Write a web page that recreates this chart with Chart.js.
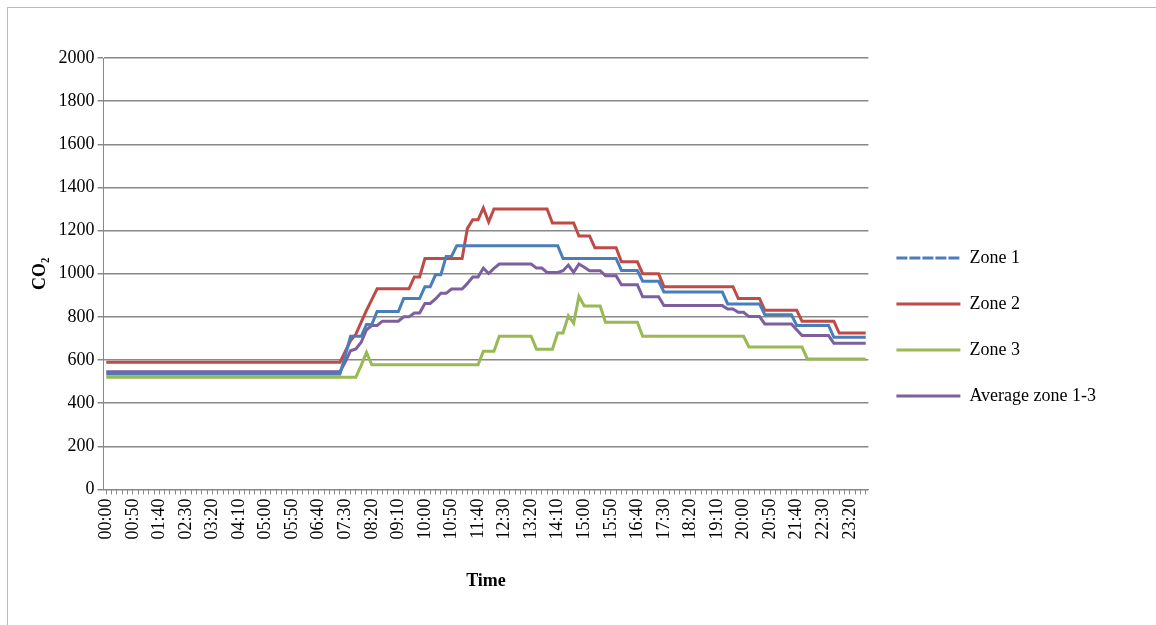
<!DOCTYPE html>
<html>
<head>
<meta charset="utf-8">
<script src="https://cdn.jsdelivr.net/npm/chart.js@4"></script>
<style>
  body { margin:0; background:#fff; }
  #wrap { position:absolute; left:0; top:0; width:1156px; height:625px; }
  #frame { position:absolute; left:7px; top:7px; width:1160px; height:630px; border:1px solid #bbb; }
</style>
</head>
<body>
<div id="wrap"><div id="frame"></div><canvas id="c" width="1156" height="625"></canvas></div>
<script>
// time labels every 10 minutes
const times = [];
for (let h = 0; h < 24; h++) for (let m = 0; m < 60; m += 10)
  times.push(String(h).padStart(2,'0') + ':' + String(m).padStart(2,'0'));

const zone1 = [
  535,535,535,535,535,535,535,535,535,535,535,535,535,535,535,535,535,535,535,535,
  535,535,535,535,535,535,535,535,535,535,535,535,535,535,535,535,535,535,535,535,
  535,535,535,535,535,620,710,710,710,765,765,825,825,825,825,825,885,885,885,885,
  940,940,995,995,1080,1080,1130,1130,1130,1130,1130,1130,1130,1130,1130,1130,1130,1130,1130,1130,
  1130,1130,1130,1130,1130,1130,1070,1070,1070,1070,1070,1070,1070,1070,1070,1070,1070,1015,1015,1015,
  1015,965,965,965,965,915,915,915,915,915,915,915,915,915,915,915,915,860,860,860,
  860,860,860,860,810,810,810,810,810,810,760,760,760,760,760,760,760,705,705,705,
  705,705,705,705
];
const zone2 = [
  590,590,590,590,590,590,590,590,590,590,590,590,590,590,590,590,590,590,590,590,
  590,590,590,590,590,590,590,590,590,590,590,590,590,590,590,590,590,590,590,590,
  590,590,590,590,590,640,690,720,775,830,880,930,930,930,930,930,930,930,985,985,
  1070,1070,1070,1070,1070,1070,1070,1070,1210,1250,1250,1305,1240,1300,1300,1300,1300,1300,1300,1300,
  1300,1300,1300,1300,1235,1235,1235,1235,1235,1175,1175,1175,1120,1120,1120,1120,1120,1055,1055,1055,
  1055,1000,1000,1000,1000,940,940,940,940,940,940,940,940,940,940,940,940,940,940,885,
  885,885,885,885,830,830,830,830,830,830,830,780,780,780,780,780,780,780,725,725,
  725,725,725,725
];
const zone3 = [
  520,520,520,520,520,520,520,520,520,520,520,520,520,520,520,520,520,520,520,520,
  520,520,520,520,520,520,520,520,520,520,520,520,520,520,520,520,520,520,520,520,
  520,520,520,520,520,520,520,520,575,635,578,578,578,578,578,578,578,578,578,578,
  578,578,578,578,578,578,578,578,578,578,578,640,640,640,710,710,710,710,710,710,
  710,650,650,650,650,725,725,805,770,895,850,850,850,850,775,775,775,775,775,775,
  775,710,710,710,710,710,710,710,710,710,710,710,710,710,710,710,710,710,710,710,
  710,660,660,660,660,660,660,660,660,660,660,660,605,605,605,605,605,605,605,605,
  605,605,605,605
];
const average = [
  545,545,545,545,545,545,545,545,545,545,545,545,545,545,545,545,545,545,545,545,
  545,545,545,545,545,545,545,545,545,545,545,545,545,545,545,545,545,545,545,545,
  545,545,545,545,545,590,643,651,682,740,760,760,780,780,780,780,800,800,818,818,
  862,862,883,909,909,929,929,929,955,985,985,1026,1001,1025,1045,1045,1045,1045,1045,1045,
  1045,1026,1026,1006,1006,1006,1014,1040,1006,1045,1030,1014,1014,1014,990,990,990,949,949,949,
  949,893,893,893,893,852,852,852,852,852,852,852,852,852,852,852,852,836,836,821,
  821,801,801,801,767,767,767,767,767,767,740,713,713,713,713,713,713,677,677,677,
  677,677,677,677
];

const serif = '"Liberation Serif", "DejaVu Serif", serif';
Chart.defaults.font.family = serif;
Chart.defaults.color = '#000';

function ds(label, data, color, dash) {
  return { label, data, borderColor: color, backgroundColor: 'rgba(0,0,0,0)',
    borderWidth: 3, pointRadius: 0, tension: 0, legendDash: dash };
}

new Chart(document.getElementById('c'), {
  type: 'line',
  data: {
    labels: times,
    datasets: [
      ds('Zone 1', zone1, '#4a7ebb', [9, 4]),
      ds('Zone 2', zone2, '#be4b48', [10, 3, 2, 3]),
      ds('Zone 3', zone3, '#98b954', [16, 4]),
      ds('Average zone 1-3', average, '#7d5fa0', [])
    ]
  },
  options: {
    responsive: false,
    animation: false,
    layout: { padding: { top: 58, left: 26, right: 50, bottom: 29 } },
    plugins: {
      tooltip: { enabled: false },
      legend: {
        position: 'right',
        align: 'center',
        labels: {
          font: { size: 18 },
          boxWidth: 64,
          boxHeight: 0,
          padding: 28,
          generateLabels: chart => chart.data.datasets.map((d, i) => ({
            text: d.label, strokeStyle: d.borderColor, fillStyle: 'rgba(0,0,0,0)',
            lineWidth: 3, lineDash: d.legendDash, datasetIndex: i, fontColor: '#000'
          }))
        }
      }
    },
    scales: {
      x: {
        offset: true,
        grid: { display: true, drawOnChartArea: false, color: '#888', tickLength: 5, offset: false },
        border: { color: '#888' },
        ticks: {
          autoSkip: false, maxRotation: 90, minRotation: 90, font: { size: 18 }, padding: 4,
          callback: (v, i) => i % 5 === 0 ? times[i] : ''
        },
        title: { display: true, text: 'Time', font: { size: 18, weight: 'bold' }, padding: { top: 27 } }
      },
      y: {
        min: 0, max: 2000,
        ticks: { stepSize: 200, font: { size: 18 }, callback: v => String(v) },
        grid: { color: '#888', lineWidth: 1.5, tickLength: 6 },
        border: { color: '#888' },
        title: { display: true, text: 'CO₂', font: { size: 18, weight: 'bold' } }
      }
    }
  }
});
</script>
</body>
</html>
